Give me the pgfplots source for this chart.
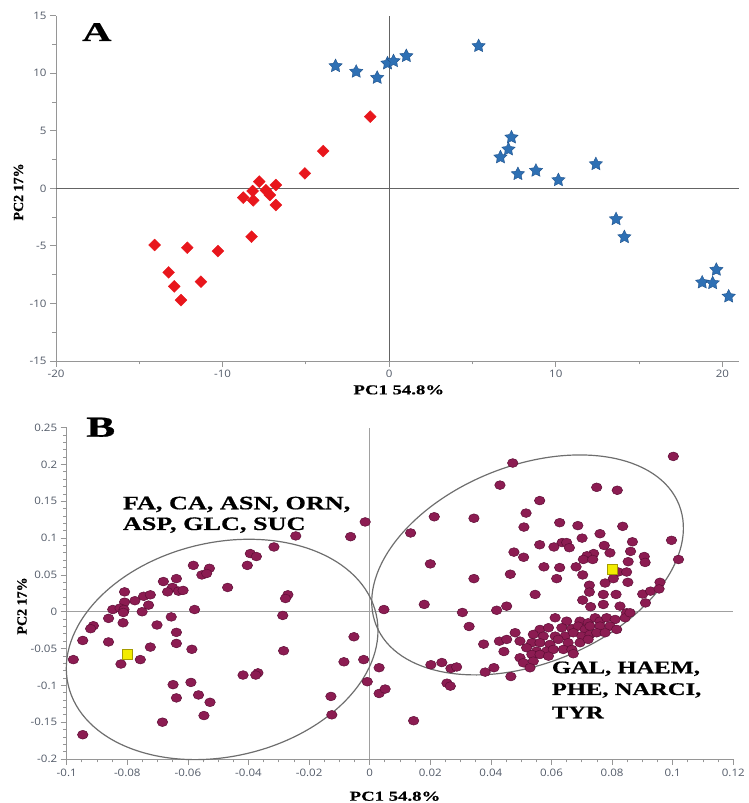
\documentclass[border=0pt]{standalone}
\usepackage{pgfplots}
\pgfplotsset{compat=1.18}
\usepackage{fontspec}
\setmainfont{Liberation Serif}
\newfontfamily\lab[FakeStretch=1.38,FakeBold=0.6]{Liberation Serif}
\newfontfamily\wide[FakeStretch=1.5,FakeBold=0.8]{Liberation Serif}
\newfontfamily\vlab[FakeBold=0.6]{Liberation Serif}
\newfontfamily\tickf[FakeStretch=1.12]{Open Sans}

\definecolor{axgray}{RGB}{150,150,150}
\definecolor{zeroA}{RGB}{100,100,100}
\definecolor{zeroB}{RGB}{160,160,160}
\definecolor{tickc}{RGB}{80,88,102}
\definecolor{redc}{RGB}{232,22,28}
\definecolor{starc}{RGB}{46,112,180}
\definecolor{stare}{RGB}{30,82,140}
\definecolor{dotc}{RGB}{140,28,82}
\definecolor{dote}{RGB}{95,15,55}
\definecolor{yelc}{RGB}{242,236,0}
\definecolor{yele}{RGB}{165,155,0}
\definecolor{ellc}{RGB}{110,110,110}

\pgfdeclareplotmark{fstar}{%
 \pgfpathmoveto{\pgfpointpolar{90}{\pgfplotmarksize}}%
 \pgfpathlineto{\pgfpointpolar{126}{0.5\pgfplotmarksize}}%
 \pgfpathlineto{\pgfpointpolar{162}{\pgfplotmarksize}}%
 \pgfpathlineto{\pgfpointpolar{198}{0.5\pgfplotmarksize}}%
 \pgfpathlineto{\pgfpointpolar{234}{\pgfplotmarksize}}%
 \pgfpathlineto{\pgfpointpolar{270}{0.5\pgfplotmarksize}}%
 \pgfpathlineto{\pgfpointpolar{306}{\pgfplotmarksize}}%
 \pgfpathlineto{\pgfpointpolar{342}{0.5\pgfplotmarksize}}%
 \pgfpathlineto{\pgfpointpolar{18}{\pgfplotmarksize}}%
 \pgfpathlineto{\pgfpointpolar{54}{0.5\pgfplotmarksize}}%
 \pgfpathclose
 \pgfusepathqfillstroke
}

\pgfplotsset{myax/.style={
  scale only axis,
  axis x line*=bottom, axis y line*=left,
  axis line style={-, draw=axgray, line width=0.9pt},
  tick align=outside,
  major tick length=6pt, minor tick length=3.5pt,
  tick style={draw=axgray, line width=0.8pt},
  tick label style={font=\tickf\fontsize{10.3}{12}\selectfont, text=tickc},
  scaled ticks=false,
  clip=false,
}}

\begin{document}
\begin{tikzpicture}
\path (0pt,0pt) rectangle (746pt,803pt);

% ---------------- Panel A ----------------
\begin{axis}[myax,
  at={(56pt,442pt)}, anchor=south west,
  width=683pt, height=345.3pt,
  xmin=-20, xmax=21, ymin=-15, ymax=15,
  xtick={-20,-10,0,10,20}, xticklabels={-20,-10,0,10,20},
  ytick={-15,-10,-5,0,5,10,15}, yticklabels={-15,-10,-5,0,5,10,15},
  minor x tick num=1, minor y tick num=1,
]
\addplot[zeroA, line width=0.8pt, no marks] coordinates {(0,-15) (0,15)};
\addplot[zeroA, line width=0.8pt, no marks] coordinates {(-20,0) (21,0)};
\addplot[only marks, mark=square*, mark size=4.2pt,
  mark options={rotate=45, fill=redc, draw=redc}] coordinates {
(-1.14,6.23) (-3.96,3.24) (-5.06,1.30) (-6.8,0.29) (-7.8,0.58) (-8.2,-0.23)
(-7.4,-0.17) (-8.76,-0.81) (-8.16,-1.04) (-7.16,-0.58) (-6.8,-1.45)
(-8.26,-4.2) (-10.28,-5.45) (-12.12,-5.16) (-14.08,-4.92) (-13.24,-7.3)
(-11.3,-8.11) (-12.9,-8.52) (-12.5,-9.71)
};
\addplot[only marks, mark=fstar, mark size=7pt,
  mark options={fill=starc, draw=stare, line width=0.4pt}] coordinates {
(-3.22,10.63) (-1.98,10.14) (-0.72,9.61) (-0.1,10.86) (0.26,11.06)
(1.03,11.5) (5.37,12.37) (7.34,4.43) (7.16,3.39) (6.68,2.7) (7.73,1.25)
(8.81,1.54) (10.16,0.72) (12.41,2.11) (13.62,-2.67) (14.12,-4.23)
(19.64,-7.07) (18.79,-8.17) (19.42,-8.23) (20.38,-9.39)
};
\end{axis}

% ---------------- Panel B ----------------
\begin{axis}[myax,
  at={(66.7pt,44pt)}, anchor=south west,
  width=666.6pt, height=331.3pt,
  xmin=-0.1, xmax=0.12, ymin=-0.2, ymax=0.25,
  xtick={-0.1,-0.08,-0.06,-0.04,-0.02,0,0.02,0.04,0.06,0.08,0.1,0.12},
  xticklabels={-0.1,-0.08,-0.06,-0.04,-0.02,0,0.02,0.04,0.06,0.08,0.1,0.12},
  ytick={-0.2,-0.15,-0.1,-0.05,0,0.05,0.1,0.15,0.2,0.25},
  yticklabels={-0.2,-0.15,-0.1,-0.05,0,0.05,0.1,0.15,0.2,0.25},
  minor x tick num=3, minor y tick num=4,
]
\addplot[zeroB, line width=0.9pt, no marks] coordinates {(0,-0.2) (0,0.25)};
\addplot[zeroB, line width=0.9pt, no marks] coordinates {(-0.1,0) (0.12,0)};
\addplot[only marks, mark=*, mark size=4.4pt,
  mark options={xscale=1.2, fill=dotc, draw=dote, line width=0.5pt}] coordinates {
(-0.0015,0.122) (-0.0244,0.103) (-0.0063,0.102) (-0.0316,0.088) (-0.0394,0.079)
(-0.0374,0.075) (-0.0404,0.063) (-0.0582,0.063) (-0.0529,0.059) (-0.0554,0.050)
(-0.0538,0.052) (-0.0469,0.033) (-0.0681,0.041) (-0.0638,0.045) (-0.0651,0.033)
(-0.0667,0.027) (-0.0631,0.028) (-0.0616,0.029) (-0.0809,0.027) (-0.0746,0.021)
(-0.0724,0.023) (-0.0775,0.015) (-0.0809,0.013) (-0.0730,0.009) (-0.0848,0.003)
(-0.0824,0.005) (-0.0811,0.003) (-0.0813,-0.001) (-0.0751,0.000) (-0.0578,0.003)
(-0.0862,-0.009) (-0.0655,-0.007) (-0.0814,-0.015) (-0.0702,-0.018) (-0.0912,-0.019)
(-0.0921,-0.023) (-0.0638,-0.028) (-0.0947,-0.039) (-0.0862,-0.041) (-0.0638,-0.043)
(-0.0724,-0.048) (-0.0587,-0.051) (-0.0978,-0.065) (-0.0757,-0.065) (-0.0821,-0.071)
(-0.0270,0.023) (-0.0278,0.018) (-0.0287,-0.005) (-0.0284,-0.053) (-0.0052,-0.034)
(-0.0085,-0.068) (-0.0020,-0.065) (-0.0008,-0.095) (-0.0418,-0.086) (-0.0369,-0.083)
(-0.0376,-0.086) (-0.0590,-0.096) (-0.0649,-0.099) (-0.0565,-0.113) (-0.0638,-0.117)
(-0.0527,-0.123) (-0.0547,-0.141) (-0.0684,-0.150) (-0.0128,-0.115) (-0.0125,-0.140)
(-0.0947,-0.167) (0.0047,0.003) (0.0031,-0.076) (0.0031,-0.111) (0.0051,-0.105)
(0.1002,0.211) (0.0472,0.202) (0.0430,0.172) (0.0749,0.169) (0.0817,0.165)
(0.0561,0.151) (0.0516,0.134) (0.0213,0.129) (0.0344,0.127) (0.0135,0.107)
(0.0509,0.115) (0.0627,0.121) (0.0687,0.117) (0.0835,0.116) (0.0760,0.106)
(0.0701,0.100) (0.0996,0.097) (0.0867,0.095) (0.0561,0.091) (0.0635,0.094)
(0.0650,0.094) (0.0659,0.087) (0.0608,0.088) (0.0774,0.090) (0.0476,0.081)
(0.0508,0.074) (0.0793,0.080) (0.0861,0.082) (0.0739,0.079) (0.0717,0.076)
(0.0705,0.071) (0.0736,0.071) (0.0906,0.075) (0.0909,0.067) (0.0853,0.068)
(0.1019,0.071) (0.0200,0.065) (0.0575,0.061) (0.0627,0.060) (0.0681,0.061)
(0.0464,0.051) (0.0703,0.050) (0.0617,0.045) (0.0344,0.045) (0.0820,0.054)
(0.0848,0.054) (0.0804,0.045) (0.0777,0.039) (0.0725,0.036) (0.0852,0.040)
(0.0958,0.040) (0.0910,0.012) (0.0901,0.024) (0.0927,0.028) (0.0955,0.031)
(0.0180,0.010) (0.0306,-0.001) (0.0419,0.002) (0.0328,-0.020) (0.0428,-0.040)
(0.0376,-0.044) (0.0443,-0.054) (0.0202,-0.072) (0.0238,-0.069) (0.0268,-0.077)
(0.0287,-0.075) (0.0255,-0.097) (0.0266,-0.101) (0.0381,-0.082) (0.0410,-0.076)
(0.0466,-0.088) (0.0145,-0.148)
(0.0546,0.0235) (0.0725,0.0267) (0.0771,0.0235) (0.0813,0.0235) (0.0452,0.0076)
(0.0703,0.0158) (0.0729,0.0068) (0.0771,0.0099) (0.0826,0.0076) (0.0848,-0.0014)
(0.0612,-0.0082) (0.0650,-0.0128) (0.0694,-0.0128) (0.0721,-0.0150) (0.0744,-0.0082)
(0.0760,-0.0128) (0.0782,-0.0082) (0.0810,-0.0105) (0.0843,-0.0082) (0.0859,-0.0014)
(0.0562,-0.0240) (0.0590,-0.0217) (0.0634,-0.0217) (0.0667,-0.0231) (0.0688,-0.0195)
(0.0711,-0.0240) (0.0727,-0.0195) (0.0760,-0.0195) (0.0793,-0.0195) (0.0815,-0.0240)
(0.0540,-0.0308) (0.0573,-0.0331) (0.0612,-0.0331) (0.0645,-0.0331) (0.0672,-0.0285)
(0.0700,-0.0331) (0.0727,-0.0308) (0.0749,-0.0285) (0.0777,-0.0285) (0.0480,-0.0285)
(0.0452,-0.0376) (0.0496,-0.0399) (0.0535,-0.0421) (0.0562,-0.0421) (0.0595,-0.0444)
(0.0622,-0.0376) (0.0655,-0.0421) (0.0694,-0.0421) (0.0721,-0.0376) (0.0518,-0.0489)
(0.0551,-0.0535) (0.0584,-0.0535) (0.0606,-0.0512) (0.0639,-0.0512) (0.0667,-0.0512)
(0.0496,-0.0625) (0.0535,-0.0580) (0.0562,-0.0580) (0.0590,-0.0603) (0.0507,-0.0693)
(0.0540,-0.0671) (0.0529,-0.0761) (0.0672,-0.0570)
};
\addplot[only marks, mark=square*, mark size=5pt,
  mark options={fill=yelc, draw=yele, line width=0.5pt}] coordinates {
(-0.0801,-0.058) (0.0800,0.0575)
};
\draw[ellc, line width=1.2pt, rotate around={13:(axis cs:-0.0487,-0.0512)}]
  (axis cs:-0.0487,-0.0512) ellipse [x radius=158pt, y radius=107pt];
\draw[ellc, line width=1.2pt, rotate around={21.7:(axis cs:0.0521,0.0636)}]
  (axis cs:0.0521,0.0636) ellipse [x radius=163pt, y radius=99pt];
\end{axis}

% ---------------- Labels ----------------
\node[anchor=base west, inner sep=0pt] at (82pt,762pt)
  {\wide\bfseries\fontsize{27}{27}\selectfont A};
\node[anchor=base west, inner sep=0pt] at (86pt,366.3pt)
  {\wide\bfseries\fontsize{29}{29}\selectfont B};
\node[anchor=base, inner sep=0pt] at (398.8pt,408.7pt)
  {\lab\bfseries\fontsize{13.6}{14}\selectfont PC1 54.8\%};
\node[anchor=base, inner sep=0pt] at (395pt,2.3pt)
  {\lab\bfseries\fontsize{13.6}{14}\selectfont PC1 54.8\%};
\node[rotate=90, inner sep=0pt] at (18.5pt,611pt)
  {\vlab\bfseries\fontsize{14}{14}\selectfont PC2 17\%};
\node[rotate=90, inner sep=0pt] at (22pt,197pt)
  {\vlab\bfseries\fontsize{14}{14}\selectfont PC2 17\%};
\node[anchor=base west, inner sep=0pt] at (122.7pt,293.7pt)
  {\lab\bfseries\fontsize{19}{20}\selectfont FA, CA, ASN, ORN,};
\node[anchor=base west, inner sep=0pt] at (122.7pt,273pt)
  {\lab\bfseries\fontsize{19}{20}\selectfont ASP, GLC, SUC};
\node[anchor=base west, inner sep=0pt] at (551.7pt,129.7pt)
  {\lab\bfseries\fontsize{17.8}{19}\selectfont GAL, HAEM,};
\node[anchor=base west, inner sep=0pt] at (551.7pt,108pt)
  {\lab\bfseries\fontsize{17.8}{19}\selectfont PHE, NARCI,};
\node[anchor=base west, inner sep=0pt] at (551.7pt,84.7pt)
  {\lab\bfseries\fontsize{17.8}{19}\selectfont TYR};
\end{tikzpicture}
\end{document}
